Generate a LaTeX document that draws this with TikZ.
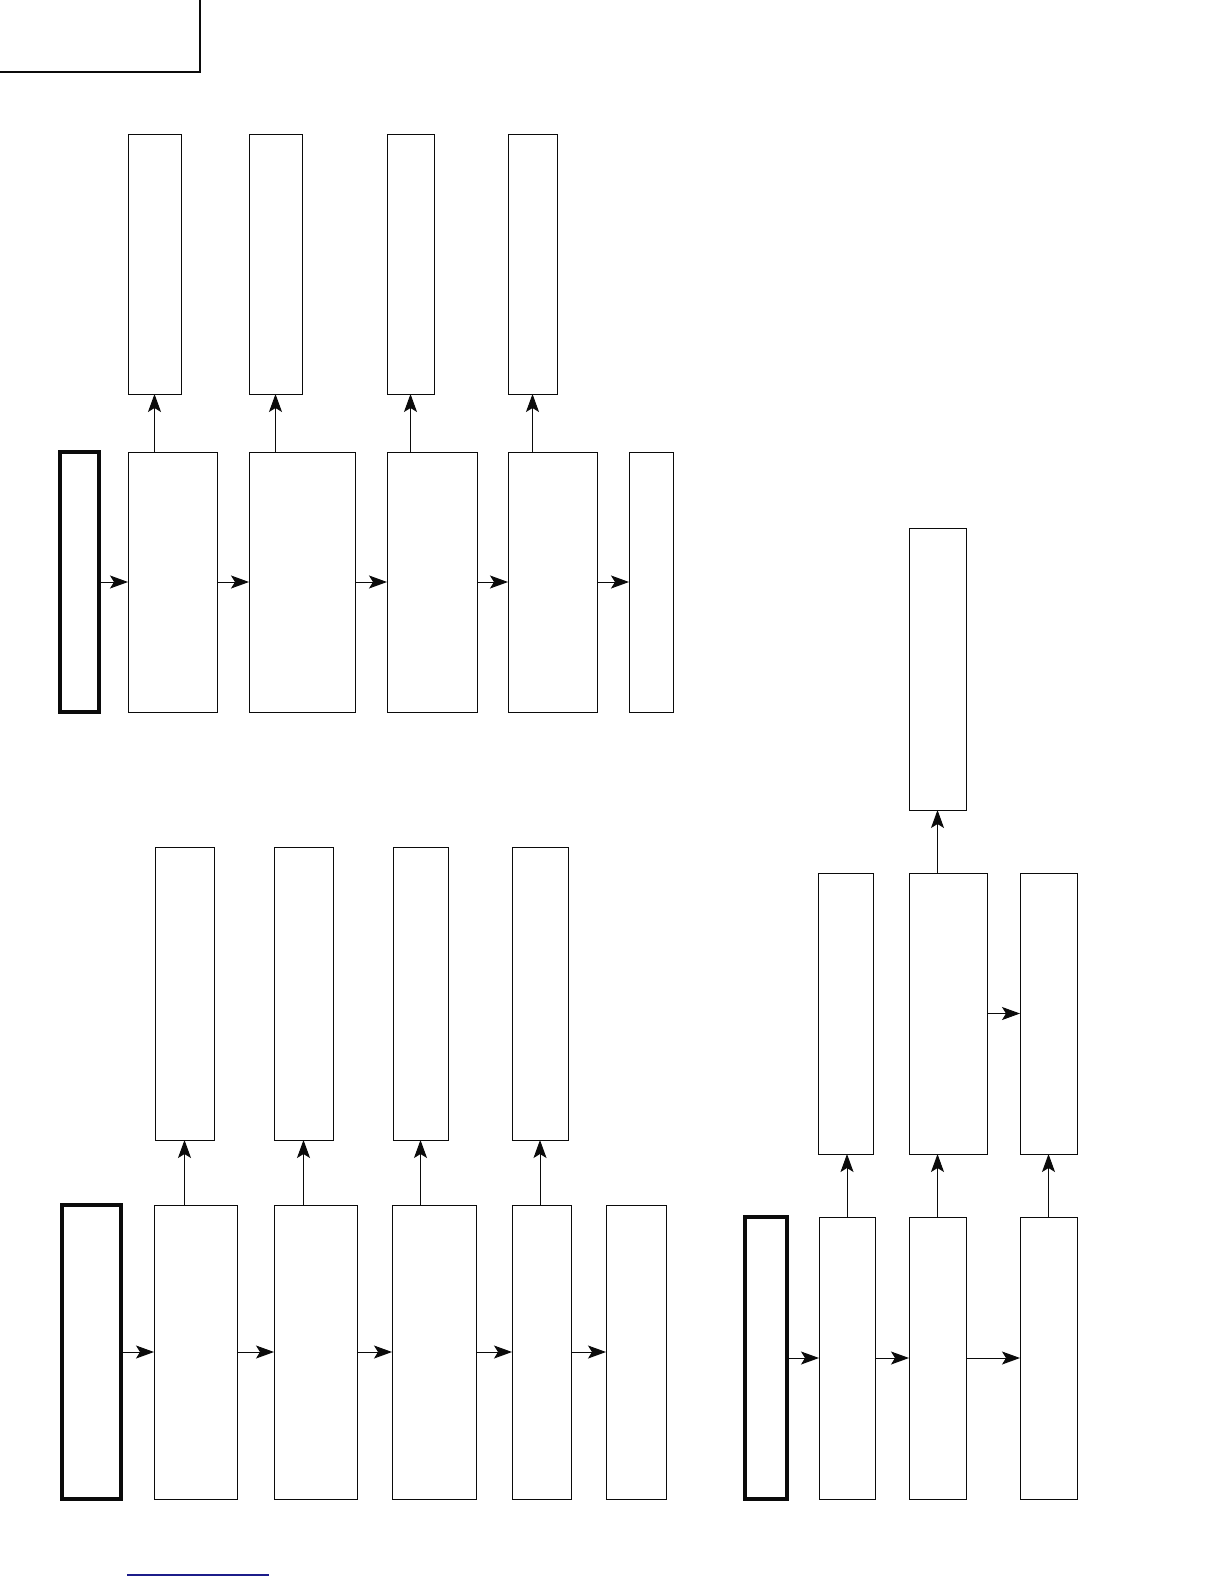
\documentclass[tikz,border=0pt]{standalone}
\usepackage{xcolor}
\usepackage{tikz}
\usetikzlibrary{arrows.meta}
\definecolor{figink}{HTML}{0B0B0B}
\definecolor{figlink}{HTML}{1C1C8A}

\begin{document}
\begin{tikzpicture}[x=1pt,y=-1pt,
  blk/.style={draw=figink, line width=0.9pt, inner sep=0pt, outer sep=0pt},
  src/.style={blk, line width=3.2pt},
  flow/.style={draw=figink, line width=1pt, -{Stealth[length=18pt,width=13pt,inset=4pt]}}]
\useasboundingbox (0,0) rectangle (1224,1584);
\node[src, line width=2.6pt, minimum width=210, minimum height=82] (tab) at (95,31) {};
% upper chain
\node[blk, minimum width=53, minimum height=260] (a1) at (154.5,264) {};
\node[blk, minimum width=53, minimum height=260] (a2) at (275.5,264) {};
\node[blk, minimum width=47, minimum height=260] (a3) at (410.5,264) {};
\node[blk, minimum width=49, minimum height=260] (a4) at (532.5,264) {};
\node[src, minimum width=39, minimum height=260] (in1) at (79.5,582) {};
\node[blk, minimum width=89, minimum height=260] (b1) at (172.5,582) {};
\node[blk, minimum width=106, minimum height=260] (b2) at (302,582) {};
\node[blk, minimum width=90, minimum height=260] (b3) at (432,582) {};
\node[blk, minimum width=89, minimum height=260] (b4) at (552.5,582) {};
\node[blk, minimum width=44, minimum height=260] (b5) at (651,582) {};
\draw[flow] (in1) -- (b1);
\draw[flow] (b1) -- (b2);
\draw[flow] (b2) -- (b3);
\draw[flow] (b3) -- (b4);
\draw[flow] (b4) -- (b5);
\draw[flow] (a1.south |- b1.north) -- (a1.south);
\draw[flow] (a2.south |- b2.north) -- (a2.south);
\draw[flow] (a3.south |- b3.north) -- (a3.south);
\draw[flow] (a4.south |- b4.north) -- (a4.south);
% lower left chain
\node[blk, minimum width=59, minimum height=293] (c1) at (184.5,993.5) {};
\node[blk, minimum width=59, minimum height=293] (c2) at (303.5,993.5) {};
\node[blk, minimum width=55, minimum height=293] (c3) at (420.5,993.5) {};
\node[blk, minimum width=56, minimum height=293] (c4) at (540,993.5) {};
\node[src, minimum width=59, minimum height=294] (in2) at (91.5,1352) {};
\node[blk, minimum width=83, minimum height=294] (d1) at (195.5,1352) {};
\node[blk, minimum width=83, minimum height=294] (d2) at (315.5,1352) {};
\node[blk, minimum width=84, minimum height=294] (d3) at (434,1352) {};
\node[blk, minimum width=59, minimum height=294] (d4) at (541.5,1352) {};
\node[blk, minimum width=60, minimum height=294] (d5) at (636,1352) {};
\draw[flow] (in2) -- (d1);
\draw[flow] (d1) -- (d2);
\draw[flow] (d2) -- (d3);
\draw[flow] (d3) -- (d4);
\draw[flow] (d4) -- (d5);
\draw[flow] (c1.south |- d1.north) -- (c1.south);
\draw[flow] (c2.south |- d2.north) -- (c2.south);
\draw[flow] (c3.south |- d3.north) -- (c3.south);
\draw[flow] (c4.south |- d4.north) -- (c4.south);
% right chain
\node[blk, minimum width=57, minimum height=282] (e) at (937.5,669) {};
\node[blk, minimum width=55, minimum height=281] (f1) at (845.5,1013.5) {};
\node[blk, minimum width=78, minimum height=281] (f2) at (948,1013.5) {};
\node[blk, minimum width=57, minimum height=281] (f3) at (1048.5,1013.5) {};
\node[src, minimum width=42, minimum height=282] (in3) at (766,1358) {};
\node[blk, minimum width=56, minimum height=282] (g1) at (847,1358) {};
\node[blk, minimum width=57, minimum height=282] (g2) at (937.5,1358) {};
\node[blk, minimum width=57, minimum height=282] (g3) at (1048.5,1358) {};
\draw[flow] (in3) -- (g1);
\draw[flow] (g1) -- (g2);
\draw[flow] (g2) -- (g3);
\draw[flow] (f2) -- (f3);
\draw[flow] (g1.north) -- (g1.north |- f1.south);
\draw[flow] (g2.north) -- (g2.north |- f2.south);
\draw[flow] (g3.north) -- (g3.north |- f3.south);
\draw[flow] (e.south |- f2.north) -- (e.south);
\draw[figlink, line width=1.5pt] (127,1575) -- (269,1575);
\end{tikzpicture}
\end{document}
